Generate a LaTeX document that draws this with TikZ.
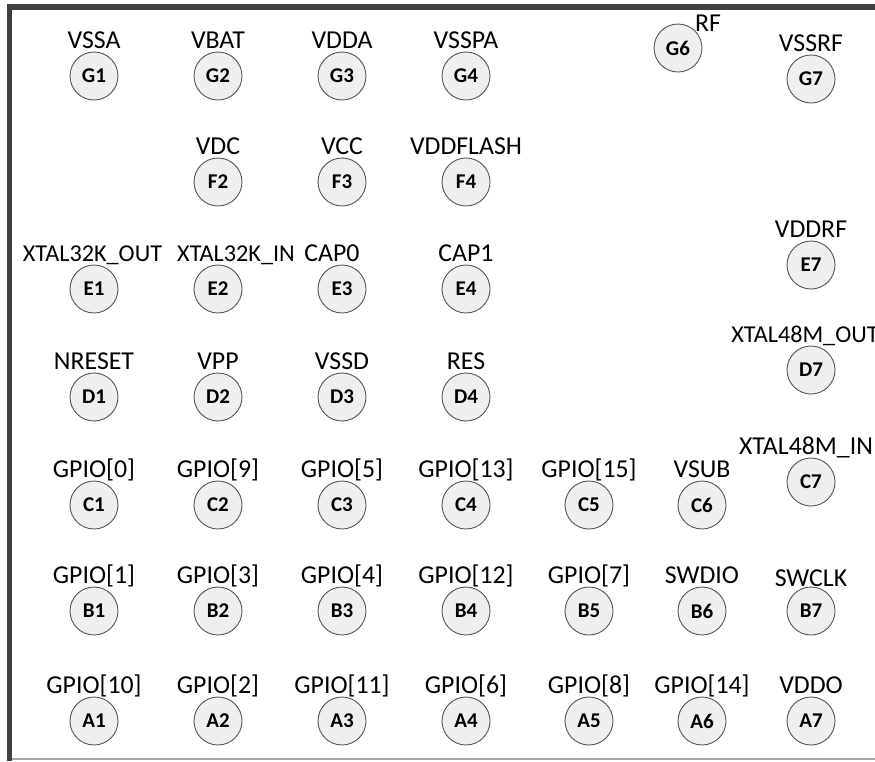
\documentclass[tikz,border=0pt]{standalone}
\usepackage{fontspec}
\setmainfont{Carlito}
\definecolor{pinfill}{HTML}{EFEFEF}
\definecolor{pinline}{HTML}{555555}
\definecolor{framedark}{HTML}{404040}
\definecolor{framelight}{HTML}{A6A6A6}
\tikzset{
  pin/.style={circle,draw=pinline,fill=pinfill,line width=0.9pt,minimum size=48pt,inner sep=0pt,font=\fontsize{21}{21}\selectfont\bfseries},
  lbl/.style={anchor=base,inner sep=0pt,font=\fontsize{25.8}{26}\selectfont},
  lblsmall/.style={lbl,font=\fontsize{24.2}{25}\selectfont},
  framebar/.style={draw=framedark,line width=5.5pt},
  frameline/.style={draw=framelight,line width=1.5pt}
}
\begin{document}
\begin{tikzpicture}[x=1pt,y=-1pt]
\useasboundingbox (0,0) rectangle (875,761);
\coordinate (fbl) at (9.5,761);
\coordinate (ftr) at (875,7);
\coordinate (bl) at (12,759);
\coordinate (br) at (875,759);
\draw[framebar] (fbl) |- (ftr);
\draw[frameline] (bl) -- (br);
\foreach \n/\x/\y/\t in {
  G1/94/76/VSSA, G2/218/76/VBAT, G3/342/76/VDDA, G4/466/76/VSSPA, G7/811/79/VSSRF,
  F2/218/182/VDC, F3/342/182/VCC, F4/466/182/VDDFLASH,
  E4/466/289/CAP1, E7/811/265/VDDRF,
  D1/94/397/NRESET, D2/218/397/VPP, D3/342/397/VSSD, D4/466/397/RES,
  C1/94/505/GPIO[0], C2/218/505/GPIO[9], C3/342/505/GPIO[5], C4/466/505/GPIO[13], C5/589/505/GPIO[15], C6/702/505/VSUB,
  B1/94/611/GPIO[1], B2/218/611/GPIO[3], B3/342/611/GPIO[4], B4/466/611/GPIO[12], B5/589/611/GPIO[7], B6/702/611/SWDIO,
  A1/94/721/GPIO[10], A2/218/721/GPIO[2], A3/342/721/GPIO[11], A4/466/721/GPIO[6], A5/589/721/GPIO[8], A6/702/721/GPIO[14], A7/811/721/VDDO}
{
  \node[pin] (\n) at (\x,\y) {\n};
  \node[lbl] (l\n) at (\x,\y-27.8) {\t};
}
\node[pin] (G6) at (678,48) {G6};
\node[lbl] (lG6) at (708,31.2) {RF};
\node[pin] (E1) at (94,289) {E1};
\node[lblsmall] (lE1) at (92.5,261.2) {XTAL32K\_OUT};
\node[pin] (E2) at (218,289) {E2};
\node[lblsmall] (lE2) at (236,261.2) {XTAL32K\_IN};
\node[pin] (E3) at (342,289) {E3};
\node[lbl] (lE3) at (332,261.2) {CAP0};
\node[pin] (D7) at (811,370) {D7};
\node[lblsmall] (lD7) at (805,342.2) {XTAL48M\_OUT};
\node[pin] (C7) at (811,482) {C7};
\node[lbl] (lC7) at (806,454.2) {XTAL48M\_IN};
\node[pin] (B7) at (811,611) {B7};
\node[lbl] (lB7) at (811,586.2) {SWCLK};
\end{tikzpicture}
\end{document}
